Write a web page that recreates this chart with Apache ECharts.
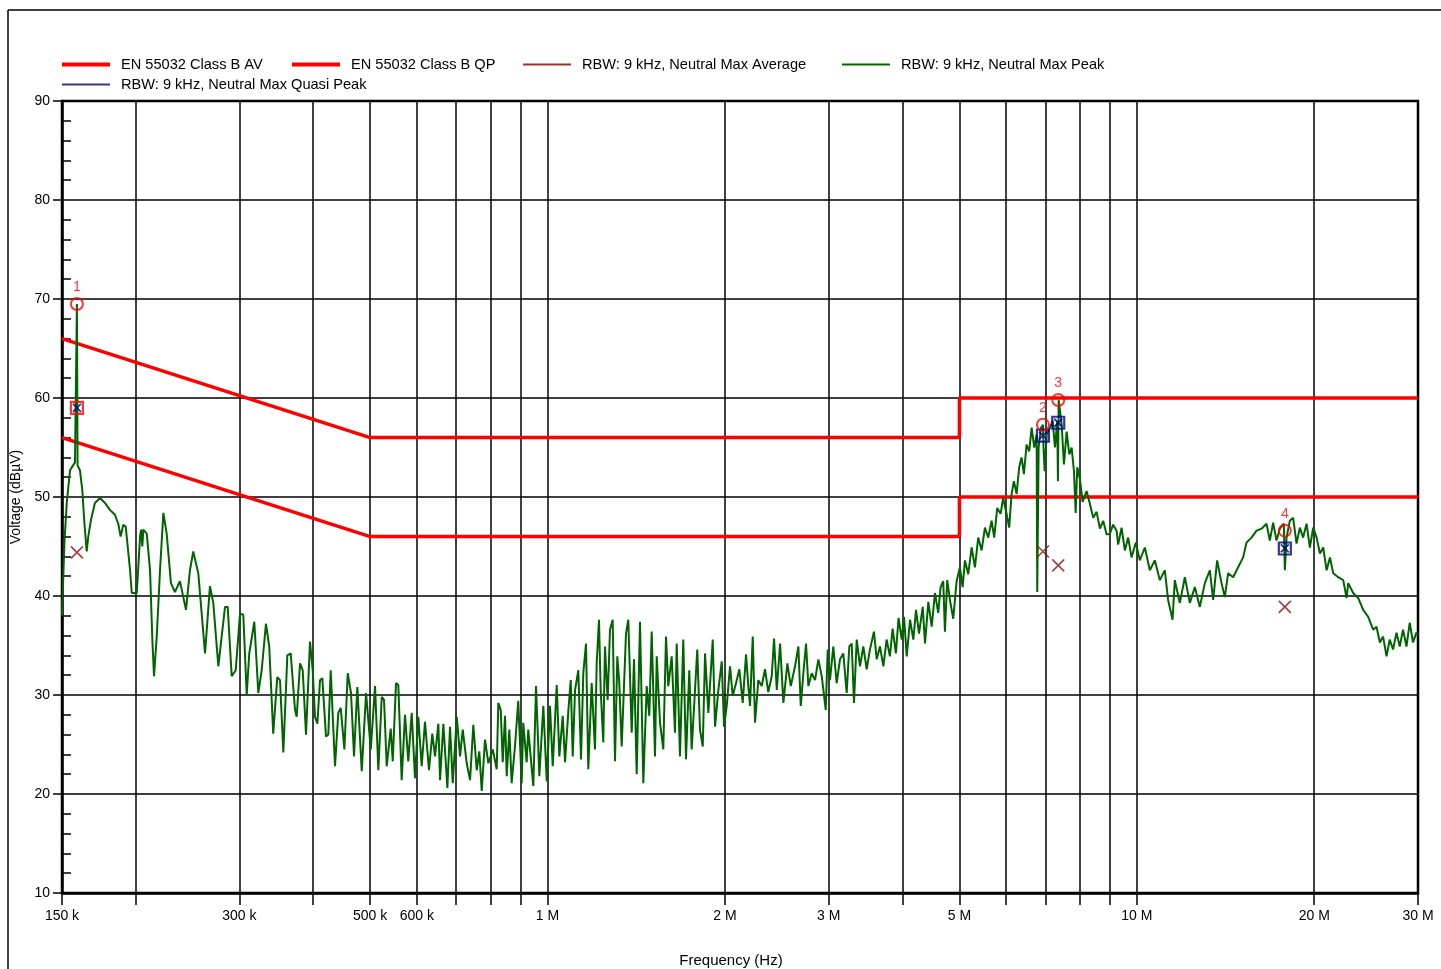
<!DOCTYPE html>
<html>
<head>
<meta charset="utf-8">
<title>Conducted emission - Neutral</title>
<script src="https://cdn.jsdelivr.net/npm/echarts@6/dist/echarts.min.js"></script>
<style>
  html, body { margin: 0; padding: 0; background: #fff; }
  #chart { width: 1441px; height: 969px; }
</style>
</head>
<body>
<div id="chart"></div>
<script>
// frequencies in MHz, levels in dBµV
var limitQpFreq = [0.15, 0.5, 5, 5, 30];
var limitQpLevel = [66, 56, 56, 60, 60];
var limitAvFreq = [0.15, 0.5, 5, 5, 30];
var limitAvLevel = [56, 46, 46, 50, 50];

// final measurement points
var markerName = ['1', '2', '3', '4'];
var markerFreq = [0.159, 6.929, 7.356, 17.83];
var markerPeak = [69.5, 57.3, 59.8, 46.6];
var markerQp = [59.0, 56.2, 57.5, 44.8];
var markerAv = [44.4, 44.5, 43.1, 38.9];

// grid lines and labelled frequencies
var gridFreq = [0.15, 0.2, 0.3, 0.4, 0.5, 0.6, 0.7, 0.8, 0.9, 1, 2, 3, 4, 5, 6, 7, 8, 9, 10, 20, 30];
var labelFreq = [0.15, 0.3, 0.5, 0.6, 1, 2, 3, 5, 10, 20, 30];

// max peak scan [MHz, dBµV]
var peakScan = [
  [0.1500, 38.0], [0.1514, 45.3], [0.1528, 49.4], [0.1548, 52.7], [0.1578, 53.5], [0.1586, 53.6], [0.1590, 69.5], [0.1594, 53.2],
  [0.1609, 52.7], [0.1624, 50.7], [0.1637, 47.4], [0.1652, 44.5], [0.1662, 46.0], [0.1680, 47.7], [0.1706, 49.4], [0.1740, 49.9],
  [0.1774, 49.4], [0.1809, 48.7], [0.1845, 48.2], [0.1869, 47.3], [0.1886, 46.0], [0.1906, 47.2], [0.1924, 47.0], [0.1939, 45.0],
  [0.1957, 42.6], [0.1970, 40.3], [0.2009, 40.3], [0.2035, 46.0], [0.2043, 46.7], [0.2053, 45.0], [0.2061, 46.7], [0.2089, 46.3],
  [0.2116, 42.6], [0.2135, 35.6], [0.2149, 31.9], [0.2172, 35.9], [0.2200, 42.6], [0.2229, 48.4], [0.2258, 46.3], [0.2296, 41.3],
  [0.2332, 40.4], [0.2378, 41.5], [0.2435, 38.6], [0.2473, 42.6], [0.2505, 44.5], [0.2555, 42.3], [0.2623, 34.2], [0.2674, 41.0],
  [0.2709, 39.3], [0.2763, 32.9], [0.2836, 38.9], [0.2866, 38.9], [0.2911, 31.9], [0.2957, 32.5], [0.3007, 38.2], [0.3046, 38.1],
  [0.3087, 30.0], [0.3118, 34.2], [0.3180, 37.4], [0.3230, 30.2], [0.3273, 32.5], [0.3328, 37.2], [0.3371, 34.9], [0.3424, 26.1],
  [0.3479, 31.8], [0.3516, 31.5], [0.3562, 24.2], [0.3618, 34.0], [0.3666, 34.2], [0.3728, 28.5], [0.3753, 27.8], [0.3802, 33.2],
  [0.3842, 32.5], [0.3892, 26.0], [0.3953, 35.4], [0.3995, 32.5], [0.4031, 27.8], [0.4068, 27.1], [0.4111, 31.5], [0.4148, 31.7],
  [0.4208, 25.8], [0.4246, 26.0], [0.4286, 32.5], [0.4359, 22.8], [0.4415, 28.2], [0.4457, 28.7], [0.4521, 24.5], [0.4581, 32.2],
  [0.4640, 30.2], [0.4695, 23.8], [0.4756, 30.8], [0.4839, 22.3], [0.4921, 30.2], [0.4953, 30.3], [0.5012, 24.5], [0.5097, 30.9],
  [0.5163, 22.4], [0.5232, 29.8], [0.5279, 29.5], [0.5335, 22.8], [0.5419, 26.6], [0.5462, 23.3], [0.5532, 31.2], [0.5582, 31.0],
  [0.5656, 21.4], [0.5730, 28.0], [0.5804, 23.3], [0.5882, 28.2], [0.5958, 21.6], [0.6035, 27.8], [0.6116, 22.8], [0.6195, 27.3],
  [0.6293, 22.4], [0.6375, 26.1], [0.6443, 23.8], [0.6527, 27.1], [0.6571, 21.4], [0.6656, 27.1], [0.6761, 20.6], [0.6832, 26.8],
  [0.6905, 21.1], [0.7014, 27.8], [0.7105, 23.8], [0.7180, 26.5], [0.7293, 23.1], [0.7388, 21.4], [0.7483, 27.0], [0.7583, 22.4],
  [0.7660, 24.3], [0.7733, 20.3], [0.7833, 25.5], [0.7935, 23.1], [0.8072, 24.5], [0.8199, 22.5], [0.8251, 29.2], [0.8328, 28.5],
  [0.8394, 23.2], [0.8470, 27.9], [0.8526, 21.8], [0.8613, 26.5], [0.8692, 21.1], [0.8805, 24.8], [0.8919, 29.4], [0.9039, 21.1],
  [0.9095, 27.2], [0.9217, 23.2], [0.9275, 26.5], [0.9460, 20.8], [0.9561, 30.9], [0.9685, 21.8], [0.9837, 28.9], [0.9969, 21.3],
  [1.0098, 28.9], [1.0205, 22.8], [1.0366, 31.0], [1.0472, 23.8], [1.0612, 27.9], [1.0708, 23.2], [1.0847, 28.4], [1.0949, 31.5],
  [1.1035, 23.8], [1.1135, 30.5], [1.1278, 32.5], [1.1397, 23.5], [1.1500, 32.2], [1.1622, 35.2], [1.1726, 22.5], [1.1883, 31.2],
  [1.2037, 24.5], [1.2117, 33.2], [1.2227, 37.6], [1.2308, 30.5], [1.2434, 25.2], [1.2516, 34.9], [1.2649, 29.5], [1.2764, 36.6],
  [1.2899, 37.6], [1.3016, 23.3], [1.3134, 33.9], [1.3237, 31.2], [1.3361, 24.8], [1.3588, 36.2], [1.3711, 37.6], [1.3894, 26.2],
  [1.4020, 33.6], [1.4168, 22.0], [1.4352, 37.4], [1.4539, 21.1], [1.4733, 30.9], [1.4883, 27.9], [1.5024, 36.4], [1.5219, 23.8],
  [1.5321, 33.9], [1.5519, 27.2], [1.5720, 24.5], [1.5887, 35.9], [1.6030, 30.9], [1.6244, 33.9], [1.6455, 26.2], [1.6565, 35.2],
  [1.6779, 23.8], [1.6997, 35.6], [1.7177, 23.5], [1.7400, 32.5], [1.7563, 24.5], [1.7952, 34.6], [1.8142, 26.5], [1.8340, 24.8],
  [1.8505, 34.2], [1.8745, 28.2], [1.9070, 35.6], [1.9242, 26.8], [1.9492, 30.5], [1.9753, 33.4], [1.9931, 26.8], [2.0141, 28.9],
  [2.0403, 32.9], [2.0619, 29.9], [2.0943, 31.5], [2.1158, 32.6], [2.1440, 29.2], [2.1719, 34.1], [2.1915, 30.9], [2.2061, 28.9],
  [2.2296, 35.9], [2.2497, 27.2], [2.2787, 31.5], [2.3091, 30.9], [2.3389, 32.6], [2.3693, 30.3], [2.4012, 31.9], [2.4231, 35.7],
  [2.4490, 30.5], [2.4810, 35.2], [2.5133, 29.2], [2.5528, 33.2], [2.5868, 30.9], [2.6304, 32.9], [2.6646, 34.9], [2.6897, 28.9],
  [2.7171, 32.2], [2.7459, 35.2], [2.7708, 30.9], [2.8078, 32.2], [2.8442, 31.5], [2.8812, 33.6], [2.9196, 31.9], [2.9654, 28.5],
  [2.9887, 34.6], [3.0152, 31.5], [3.0544, 34.9], [3.0953, 31.2], [3.1354, 33.6], [3.1761, 34.2], [3.2186, 30.2], [3.2514, 34.9],
  [3.2822, 35.2], [3.3116, 29.2], [3.3470, 35.6], [3.3901, 32.9], [3.4342, 34.9], [3.4801, 32.6], [3.5248, 34.6], [3.5801, 36.4],
  [3.6191, 33.6], [3.6652, 34.9], [3.7143, 32.9], [3.7620, 35.6], [3.8105, 33.9], [3.8509, 36.7], [3.9007, 34.2], [3.9419, 37.8],
  [3.9906, 35.6], [4.0266, 37.9], [4.0694, 33.9], [4.1222, 37.6], [4.1756, 35.6], [4.2199, 38.6], [4.2696, 36.2], [4.3318, 38.9],
  [4.3710, 35.2], [4.4276, 39.4], [4.4870, 36.9], [4.5436, 40.3], [4.6025, 38.3], [4.6458, 40.9], [4.6933, 41.5], [4.7245, 36.4],
  [4.7672, 41.6], [4.8178, 39.6], [4.8803, 37.7], [4.9456, 41.5], [5.0098, 42.9], [5.0629, 40.9], [5.1087, 43.6], [5.1749, 42.2],
  [5.2441, 44.9], [5.3122, 42.9], [5.3811, 45.9], [5.4531, 44.6], [5.5237, 46.9], [5.5956, 45.9], [5.6699, 47.6], [5.7277, 45.9],
  [5.7955, 48.9], [5.8724, 48.3], [5.9322, 49.9], [6.0117, 48.3], [6.0731, 46.9], [6.1304, 50.3], [6.1857, 51.6], [6.2512, 50.3],
  [6.3150, 53.0], [6.3746, 54.0], [6.4321, 52.3], [6.5003, 55.3], [6.5669, 54.6], [6.6298, 57.0], [6.6977, 55.0], [6.7607, 56.3],
  [6.7766, 40.4], [6.8137, 55.0], [6.8753, 57.0], [6.9292, 57.3], [6.9450, 55.0], [6.9754, 52.6], [7.0301, 56.3], [7.1214, 57.0],
  [7.1969, 57.7], [7.2618, 55.0], [7.3273, 57.7], [7.3470, 51.6], [7.3680, 59.8], [7.4546, 57.3], [7.5217, 53.3], [7.6015, 56.6],
  [7.6793, 54.3], [7.7517, 55.0], [7.8217, 52.6], [7.8739, 48.4], [7.9234, 53.0], [8.0060, 51.8], [8.0911, 49.5], [8.2186, 50.6],
  [8.3252, 49.3], [8.4333, 47.9], [8.5458, 48.5], [8.6570, 46.8], [8.7690, 47.6], [8.8866, 46.2], [9.0000, 46.3], [9.1165, 47.2],
  [9.2387, 46.6], [9.2966, 45.2], [9.4208, 46.9], [9.5432, 44.6], [9.6669, 45.9], [9.7963, 43.9], [9.9610, 45.4], [10.118, 43.6],
  [10.318, 44.9], [10.521, 42.6], [10.729, 43.6], [10.940, 41.6], [11.156, 42.6], [11.300, 39.6], [11.497, 37.6], [11.600, 41.6],
  [11.830, 39.3], [12.064, 41.9], [12.301, 39.3], [12.544, 40.9], [12.791, 38.9], [13.044, 41.3], [13.301, 42.6], [13.474, 39.6],
  [13.686, 43.6], [13.923, 41.3], [14.104, 39.9], [14.287, 42.3], [14.569, 41.9], [14.856, 42.9], [15.149, 43.9], [15.352, 45.4],
  [15.655, 45.9], [15.964, 46.6], [16.279, 46.8], [16.600, 47.3], [16.815, 45.6], [17.033, 47.4], [17.261, 45.6], [17.485, 46.8],
  [17.760, 47.3], [17.830, 42.6], [17.949, 45.9], [18.182, 47.6], [18.418, 47.9], [18.665, 45.3], [18.907, 46.9], [19.152, 45.9],
  [19.409, 47.3], [19.661, 44.9], [19.922, 46.9], [20.188, 45.9], [20.450, 44.3], [20.716, 44.9], [20.992, 42.6], [21.265, 43.9],
  [21.541, 42.3], [21.965, 41.9], [22.398, 41.6], [22.697, 39.8], [22.840, 41.3], [23.289, 40.3], [23.748, 39.8], [24.216, 38.6],
  [24.693, 37.9], [25.179, 36.6], [25.515, 36.9], [25.845, 35.3], [26.177, 35.9], [26.527, 33.9], [26.868, 35.6], [27.216, 34.6],
  [27.580, 36.3], [27.936, 34.9], [28.298, 36.6], [28.676, 34.9], [29.048, 37.3], [29.424, 35.3], [29.816, 36.3], [30.000, 36.0]
];

var FONT = '"Liberation Sans", Arial, sans-serif';

// x axis is log10(Hz) on a value axis so that the grid can sit on 2,3,4.. decades
function lx(mhz) { return Math.log10(mhz * 1e6); }
function pairs(f, v) { return f.map(function (x, i) { return [lx(x), v[i]]; }); }
function fmtFreq(v) {
  var f = Math.round(Math.pow(10, v));
  return f >= 1e6 ? (f / 1e6) + ' M' : (f / 1e3) + ' k';
}

var NAME_AV = 'EN 55032 Class B AV';
var NAME_QP = 'EN 55032 Class B QP';
var NAME_MAV = 'RBW: 9 kHz, Neutral Max Average';
var NAME_MPK = 'RBW: 9 kHz, Neutral Max Peak';
var NAME_MQP = 'RBW: 9 kHz, Neutral Max Quasi Peak';

function legendItem(name, color, h, left, top) {
  return {
    data: [{ name: name, icon: 'rect', itemStyle: { color: color, borderWidth: 0 } }],
    left: left, top: top, padding: 0,
    itemWidth: 48, itemHeight: h,
    selectedMode: false,
    textStyle: { fontFamily: FONT, fontSize: 14.6, color: '#000', padding: [0, 0, 0, 6] }
  };
}

var SQUARE = 'path://M0,0H10V10H0Z';
var CROSS = 'path://M0,0L10,10M10,0L0,10';

var chart = echarts.init(document.getElementById('chart'));
var option = {
  animation: false,
  backgroundColor: '#fff',
  textStyle: { fontFamily: FONT },
  graphic: [
    { type: 'line', shape: { x1: 8, y1: 10, x2: 8, y2: 969 }, style: { stroke: '#000', lineWidth: 1.5 } },
    { type: 'line', shape: { x1: 8, y1: 10, x2: 1441, y2: 10 }, style: { stroke: '#000', lineWidth: 1.5 } }
  ],
  legend: [
    legendItem(NAME_AV, '#ff0000', 4, 62, 57),
    legendItem(NAME_QP, '#ff0000', 4, 292, 57),
    legendItem(NAME_MAV, '#800000', 2, 523, 57),
    legendItem(NAME_MPK, '#006400', 2, 842, 57),
    legendItem(NAME_MQP, '#000080', 2, 62, 77)
  ],
  grid: {
    left: 62, right: 23, top: 101, bottom: 76,
    outerBoundsMode: 'none',
    show: true, borderColor: '#000', borderWidth: 2.5
  },
  xAxis: {
    type: 'value',
    min: lx(0.15), max: lx(30),
    name: 'Frequency (Hz)', nameLocation: 'middle', nameGap: 60,
    nameTextStyle: { fontFamily: FONT, fontSize: 15, color: '#000', padding: [0, 18, 0, 0] },
    axisLine: { show: true, onZero: false, lineStyle: { color: '#000', width: 2.5 } },
    axisTick: { show: true, customValues: gridFreq.map(lx), length: 12, lineStyle: { color: '#000', width: 1.5 } },
    axisLabel: { customValues: labelFreq.map(lx), formatter: fmtFreq, color: '#000', fontSize: 14, margin: 16 },
    splitLine: { show: true, lineStyle: { color: '#000', width: 1.5 } }
  },
  yAxis: {
    type: 'value',
    min: 10, max: 90, interval: 10,
    name: 'Voltage (dBµV)', nameLocation: 'middle', nameGap: 36, nameRotate: 90,
    nameTextStyle: { fontFamily: FONT, fontSize: 14, color: '#000' },
    axisLine: { show: true, lineStyle: { color: '#000', width: 2.5 } },
    axisTick: { show: true, length: 9, lineStyle: { color: '#000', width: 1.5 } },
    minorTick: { show: true, splitNumber: 5, length: -9, lineStyle: { color: '#000', width: 1.5 } },
    axisLabel: { color: '#000', fontSize: 14, margin: 12 },
    splitLine: { show: true, lineStyle: { color: '#000', width: 1.5 } }
  },
  series: [
    {
      name: NAME_AV, type: 'line', symbol: 'none', z: 3,
      lineStyle: { color: '#ff0000', width: 3.5 },
      data: pairs(limitAvFreq, limitAvLevel)
    },
    {
      name: NAME_QP, type: 'line', symbol: 'none', z: 3,
      lineStyle: { color: '#ff0000', width: 3.5 },
      data: pairs(limitQpFreq, limitQpLevel)
    },
    {
      name: NAME_MPK, type: 'line', symbol: 'none', z: 4,
      lineStyle: { color: '#006400', width: 2 },
      data: peakScan.map(function (p) { return [lx(p[0]), p[1]]; })
    },
    {
      name: NAME_MAV, type: 'scatter', symbol: CROSS, symbolSize: 12, z: 6,
      itemStyle: { color: 'rgba(0,0,0,0)', borderColor: '#8b1010', borderWidth: 1.6 },
      data: pairs(markerFreq, markerAv)
    },
    {
      name: NAME_MQP, type: 'scatter', symbol: SQUARE, symbolSize: 12, z: 6,
      itemStyle: { color: 'rgba(0,0,0,0)', borderColor: '#00008b', borderWidth: 2.2 },
      data: pairs(markerFreq, markerQp).map(function (p, i) {
        return i === 0 ? { value: p, itemStyle: { borderColor: '#ff0000' } } : p;
      })
    },
    {
      name: 'qpCross', type: 'scatter', symbol: CROSS, symbolSize: 8, z: 7,
      itemStyle: { color: 'rgba(0,0,0,0)', borderColor: '#00008b', borderWidth: 1.8 },
      data: pairs(markerFreq, markerQp)
    },
    {
      name: 'peakMarker', type: 'scatter', symbol: 'circle', symbolSize: 12, z: 7,
      itemStyle: { color: 'rgba(0,0,0,0)', borderColor: '#ff0000', borderWidth: 2 },
      label: {
        show: true, position: 'top', distance: 3, color: '#ff0000', fontSize: 14,
        formatter: function (p) { return p.name; }
      },
      data: pairs(markerFreq, markerPeak).map(function (p, i) {
        return { name: markerName[i], value: p };
      })
    }
  ]
};
chart.setOption(option);
</script>
</body>
</html>
